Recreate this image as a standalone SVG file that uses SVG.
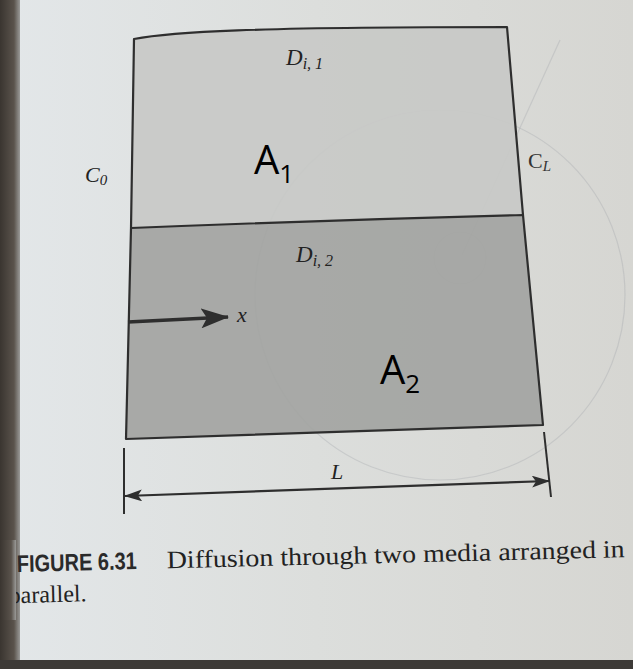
<svg xmlns="http://www.w3.org/2000/svg" width="633" height="669" viewBox="0 0 633 669">
<defs>
<style>
.edge{fill:none;stroke:#2e2e2e;stroke-width:2.2;stroke-linejoin:round}
.it{font-family:"Liberation Serif","DejaVu Serif",serif;font-style:italic;fill:#222}
.big{font-family:"Open Sans","Liberation Sans",sans-serif;fill:#000}
.faint{fill:none;stroke:#9aa0a4;stroke-width:1.2;opacity:0.3}
</style>
<linearGradient id="pg" x1="0" y1="0" x2="1" y2="0">
<stop offset="0" stop-color="#e3e7e9"/>
<stop offset="0.5" stop-color="#dcdedc"/>
<stop offset="1" stop-color="#d6d6d2"/>
</linearGradient>
<linearGradient id="bind" x1="0" y1="0" x2="1" y2="0">
<stop offset="0" stop-color="#3a3530"/>
<stop offset="0.7" stop-color="#5a534c"/>
<stop offset="1" stop-color="#9a9a98"/>
</linearGradient>
<marker id="ah" viewBox="0 0 18 12" refX="17" refY="6" markerWidth="18" markerHeight="12" markerUnits="userSpaceOnUse" orient="auto-start-reverse">
<path d="M0,0 L18,6 L0,12 L4,6 Z" fill="#2e2e2e"/>
</marker>
<marker id="ahx" viewBox="0 0 28 20" refX="27" refY="10" markerWidth="28" markerHeight="20" markerUnits="userSpaceOnUse" orient="auto">
<path d="M0,0 L28,10 L0,20 L6,10 Z" fill="#2e2e2e"/>
</marker>
</defs>
<rect x="0" y="0" width="633" height="669" fill="url(#pg)"/>
<rect x="0" y="0" width="20" height="669" fill="url(#bind)"/>
<rect x="0" y="660" width="633" height="9" fill="#3d3a37"/>

<g id="showthrough">
<circle class="faint" cx="440" cy="295" r="185"/>
<circle class="faint" cx="460" cy="258" r="26"/>
<path class="faint" d="M462,255 L560,40"/>
</g>

<g id="medium1">
<path d="M134,39 C170,32 250,27 507,27 L523,215 Q330,220 131,228 Z" fill="#c8c9c7" fill-opacity="0.92"/>
<path class="edge" d="M131,228 L134,39 C170,32 250,27 507,27 L523,215"/>
<text class="it" x="286" y="65" font-size="23">D<tspan font-size="16" dy="4">i, 1</tspan></text>
<text class="big" x="254" y="174" font-size="40">A<tspan font-size="26" dy="9">1</tspan></text>
</g>

<g id="medium2">
<path d="M131,228 Q330,220 523,215 L543,425 L126,439 Z" fill="#a3a4a2" fill-opacity="0.92"/>
<path class="edge" d="M131,228 Q330,220 523,215 L543,425 L126,439 Z"/>
<text class="it" x="296" y="262" font-size="23">D<tspan font-size="16" dy="4">i, 2</tspan></text>
<text class="big" x="380" y="384" font-size="40">A<tspan font-size="26" dy="9">2</tspan></text>
</g>

<g id="labels">
<text class="it" x="85" y="182" font-size="22" fill="#555">C<tspan font-size="15" dy="3">0</tspan></text>
<text x="528" y="168" font-size="22" font-family="Liberation Serif, serif" fill="#333">C<tspan font-size="15" dy="3" font-style="italic">L</tspan></text>
<text class="it" x="331" y="479" font-size="22">L</text>
<text class="it" x="237" y="322" font-size="22">x</text>
</g>

<g id="connectors">
<path d="M128,322 L228,317" stroke="#2e2e2e" stroke-width="3.5" fill="none" marker-end="url(#ahx)"/>
<path d="M124,448 L124,514" stroke="#2e2e2e" stroke-width="2"/>
<path d="M544,432 L551,497" stroke="#2e2e2e" stroke-width="2"/>
<path d="M125,496 L549,481" stroke="#2e2e2e" stroke-width="2.2" fill="none" marker-start="url(#ah)" marker-end="url(#ah)"/>
</g>

<g id="caption" transform="rotate(-1.4 17 572)">
<text x="17" y="572" font-family="Liberation Sans, sans-serif" font-weight="bold" font-size="24" fill="#2a2a2a" textLength="120" lengthAdjust="spacingAndGlyphs">FIGURE 6.31</text>
<text x="167" y="572" font-family="Liberation Serif, serif" font-size="25" fill="#222" textLength="458" lengthAdjust="spacingAndGlyphs">Diffusion through two media arranged in</text>
<text x="8" y="603" font-family="Liberation Serif, serif" font-size="24" fill="#222">parallel.</text>
</g>
<rect x="0" y="540" width="16" height="80" fill="url(#bind)"/>
</svg>
